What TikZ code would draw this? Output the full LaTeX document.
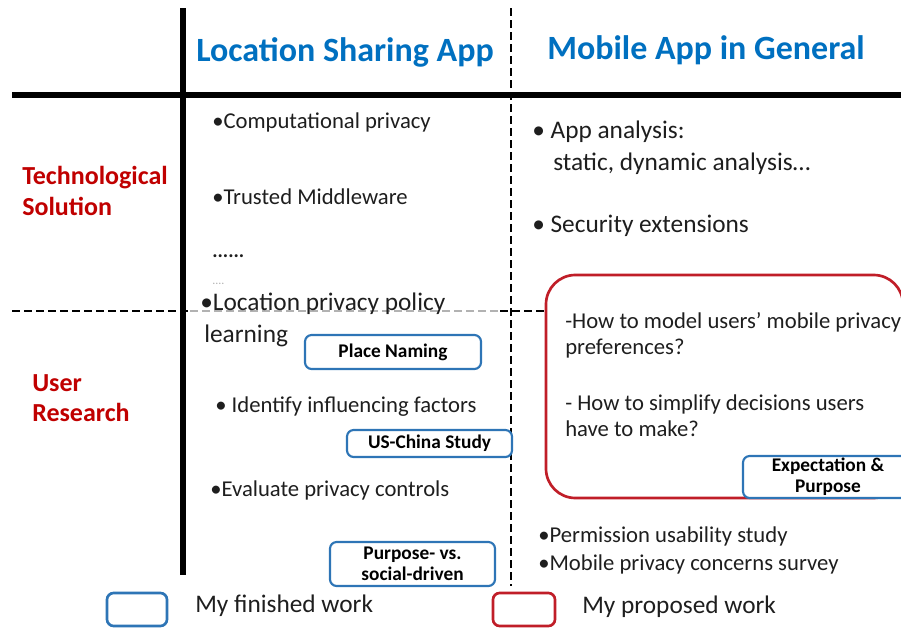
\documentclass[tikz,border=0pt]{standalone}
\usepackage{fontspec}
\setmainfont{Carlito}
\definecolor{hblue}{RGB}{0,112,192}
\definecolor{lred}{RGB}{192,0,0}
\definecolor{bxblue}{RGB}{46,117,182}
\definecolor{bxred}{RGB}{192,30,40}
\definecolor{txt}{RGB}{30,30,30}
\begin{document}
\begin{tikzpicture}[x=0.75pt,y=-0.75pt,
  hdr/.style={font=\fontsize{25.5}{28}\selectfont\bfseries, text=hblue, inner sep=0pt},
  rowlab/.style={font=\fontsize{19.5}{23}\selectfont\bfseries, text=lred, align=left, anchor=west, inner sep=0pt},
  item/.style={font=\fontsize{17}{20}\selectfont, text=txt, anchor=west, inner sep=0pt},
  itembig/.style={font=\fontsize{19}{22}\selectfont, text=txt, anchor=west, inner sep=0pt},
  fin/.style={draw=bxblue, line width=1.6pt, rounded corners=5pt, fill=white, font=\fontsize{14.5}{15.5}\selectfont\bfseries, text=black, align=center, inner sep=0pt},
  legtxt/.style={font=\fontsize{19}{22}\selectfont, text=txt, anchor=west, inner sep=0pt}
]
\useasboundingbox (0,0) rectangle (901,628);
\clip (0,0) rectangle (901,628);
% grid lines
\coordinate (vs1) at (183,8); \coordinate (vs2) at (183,575);
\coordinate (vd1) at (511,8); \coordinate (vd2) at (511,586);
\coordinate (hs1) at (12,95); \coordinate (hs2) at (901,95);
\coordinate (hd1) at (12,311); \coordinate (hd2) at (190,311);
\coordinate (hd3) at (500,311); \coordinate (hd4) at (546,311);
\draw[line width=4pt] (vs1) -- (vs2);
\draw[line width=4pt] (hs1) -- (hs2);
\draw[line width=2pt, dash pattern=on 6pt off 3pt] (vd1) -- (vd2);
\draw[line width=2pt, dash pattern=on 6pt off 3pt] (hd1) -- (hd2);
\draw[line width=2pt, gray!60, dash pattern=on 6pt off 3pt] (hd2) -- (hd3);
\draw[line width=2pt, dash pattern=on 6pt off 3pt] (hd3) -- (hd4);
% headers
\node[hdr] (h1) at (345,52) {Location Sharing App};
\node[hdr] (h2) at (706,50) {Mobile App in General};
% row labels
\node[rowlab] (r1) at (22,191) {Technological\\Solution};
\node[rowlab] (r2) at (32,398) {User\\Research};
% left column
\node[item] (c1) at (212,122) {•Computational privacy};
\node[item] (c2) at (212,197) {•Trusted Middleware};
\node[item, font=\fontsize{15}{18}\selectfont\bfseries] (c3) at (212,256) {......};
\node[item, text=gray!60, font=\fontsize{9}{10}\selectfont] (c4) at (212,284) {....};
\node[itembig] (c5) at (200,304) {•Location privacy policy};
\node[itembig] (c6) at (204,336) {learning};
\node[item] (c7) at (215,407) {• Identify influencing factors};
\node[item] (c8) at (210,490) {•Evaluate privacy controls};
\node[fin, minimum width=132pt, minimum height=25.5pt] (b1) at (393,352) {Place Naming};
\node[fin, minimum width=123.75pt, minimum height=20.25pt] (b2) at (429.5,443.5) {US-China Study};
\node[fin, minimum width=123.75pt, minimum height=33pt] (b3) at (412.5,564) {Purpose- vs.\\social-driven};
% right column
\node[itembig] (m1) at (532,132) {• App analysis:};
\node[itembig] (m2) at (553,164) {static, dynamic analysis…};
\node[itembig] (m3) at (532,226) {• Security extensions};
\draw[bxred, line width=2pt, rounded corners=22pt] (546,275) rectangle (903,498);
\node[item] (q1) at (565,322) {-How to model users’ mobile privacy};
\node[item] (q2) at (565,349) {preferences?};
\node[item] (q3) at (565,404) {- How to simplify decisions users};
\node[item] (q4) at (565,429) {have to make?};
\node[fin, minimum width=127.5pt, minimum height=31.5pt] (b4) at (828,477) {Expectation \&\\Purpose};
\node[item] (p1) at (538,536) {•Permission usability study};
\node[item] (p2) at (538,564) {•Mobile privacy concerns survey};
% legend
\node[draw=bxblue, line width=2pt, rounded corners=5pt, minimum width=45pt, minimum height=24.75pt] (l1) at (137,609.5) {};
\node[legtxt] (l1t) at (195,606) {My finished work};
\node[draw=bxred, line width=2pt, rounded corners=5pt, minimum width=46.5pt, minimum height=24.75pt] (l2) at (524,609.5) {};
\node[legtxt] (l2t) at (582,607) {My proposed work};
\end{tikzpicture}
\end{document}
